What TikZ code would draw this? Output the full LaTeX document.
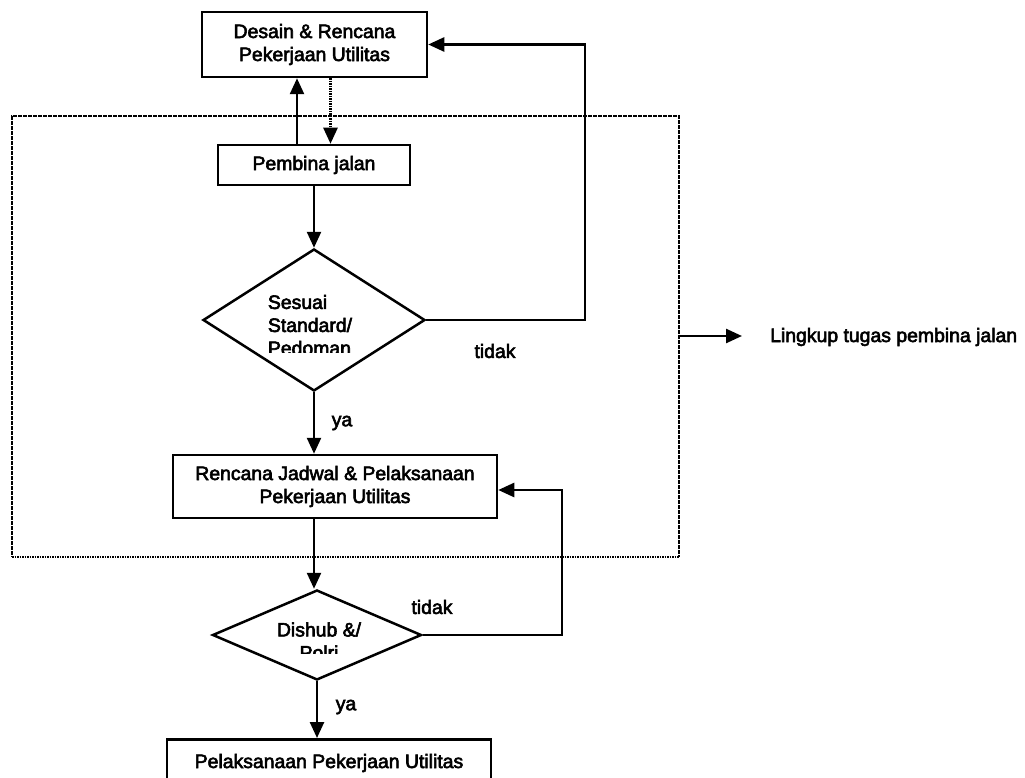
\documentclass[tikz,border=0pt]{standalone}
\usepackage{fontspec}
\setmainfont{Liberation Sans}[BoldFont={Liberation Sans},BoldFeatures={FakeBold=3}]
\usetikzlibrary{arrows.meta,shapes.geometric}
\begin{document}
\begin{tikzpicture}[x=1pt,y=-1pt,
  every node/.style={font=\fontsize{19.4}{23}\selectfont\bfseries},
  box/.style={draw,line width=2.5pt,inner sep=0pt,align=center},
  dec/.style={draw,diamond,line width=2.5pt,inner sep=0pt},
  txt/.style={inner sep=0pt,align=left},
  arr/.style={line width=2.5pt,-{Triangle[length=16pt,width=14pt]}},
  scope/.style={line width=2.6pt,dash pattern=on 1.6pt off 0.9pt}]
\useasboundingbox (0,0) rectangle (1025,778);
% dotted scope frame
\node[draw,scope,inner sep=0pt,minimum width=667pt,minimum height=441pt] (frame) at (345.5,336.5) {};
% boxes
\node[box,minimum width=225pt,minimum height=65pt] (desain) at (314.5,44.5) {Desain \& Rencana\\Pekerjaan Utilitas};
\node[box,minimum width=192pt,minimum height=40pt] (pembina) at (314,165) {Pembina jalan};
\node[dec,minimum width=222pt,minimum height=142pt] (d1) at (314,320) {};
\node[box,minimum width=324pt,minimum height=63pt] (rencana) at (335,486.5) {Rencana Jadwal \& Pelaksanaan\\Pekerjaan Utilitas};
\node[dec,minimum width=209pt,minimum height=90pt] (d2) at (317,635) {};
\node[box,minimum width=324pt,minimum height=70pt,anchor=north] (pelaks) at (329,738) {};
\node[txt] (pelakstext) at (329,763) {Pelaksanaan Pekerjaan Utilitas};
% diamond texts (bottom line cut off as in the reference)
\begin{scope}
  \clip (200,280) rectangle (430,352);
  \node[txt] (d1text) at (310,325) {Sesuai\\Standard/\\Pedoman};
\end{scope}
\begin{scope}
  \clip (220,610) rectangle (420,653);
  \node[txt,align=center] (d2text) at (319,641) {Dishub \&/\\Polri};
\end{scope}
% connectors
\coordinate (upS) at ([xshift=-17pt]pembina.north);
\coordinate (dnS) at ([xshift=16pt]desain.south);
\draw[arr] (upS) -- (upS |- desain.south);
\draw[arr,dash pattern=on 1.6pt off 0.9pt] (dnS) -- (dnS |- pembina.north);
\draw[arr] (pembina.south) -- (d1.north);
\coordinate (r1x) at (585,0);
\draw[arr] (d1.east) -- (d1.east -| r1x) -- (r1x |- desain.east) -- (desain.east);
\draw[arr] (d1.south) -- (d1.south |- rencana.north);
\draw[arr] (d1.south |- rencana.south) -- (d1.south |- d2.north);
\coordinate (r2) at (562,490);
\draw[arr] (d2.east) -- (d2.east -| r2) -- (r2) -- (rencana.east |- r2);
\draw[arr] (d2.south) -- (d2.south |- pelaks.north);
\coordinate (lk) at (742,336);
\draw[arr] (frame.east |- lk) -- (lk);
% labels
\node[txt] (t1) at (495,351) {tidak};
\node[txt] (y1) at (342,423) {ya};
\node[txt] (t2) at (432,607) {tidak};
\node[txt] (y2) at (346,707) {ya};
\node[txt,anchor=west] (lingkup) at (770,337) {Lingkup tugas pembina jalan};
\end{tikzpicture}
\end{document}
